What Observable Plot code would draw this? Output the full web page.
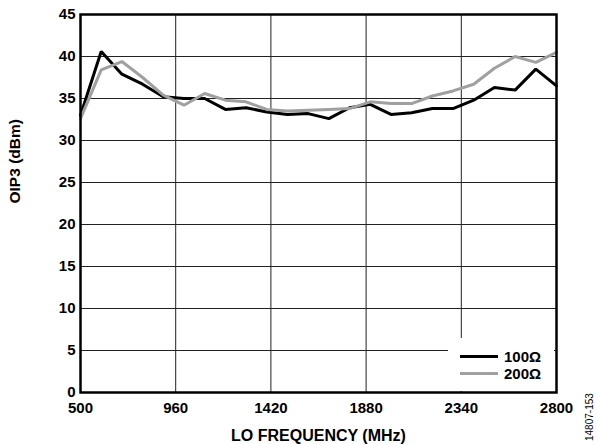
<!DOCTYPE html>
<html><head><meta charset="utf-8">
<script src="https://cdn.jsdelivr.net/npm/d3@7"></script>
<script src="https://cdn.jsdelivr.net/npm/@observablehq/plot@0.6"></script>
<style>
body{margin:0;background:#fff;font-family:"Liberation Sans",Arial,sans-serif;}
#wrap{position:relative;width:598px;height:444px;}
#legend{position:absolute;left:448px;top:338px;width:106px;height:53px;background:#fff;font-weight:bold;font-size:15px;}
.row{position:absolute;left:12px;height:17px;display:flex;align-items:center;}
.sw{width:38px;height:3px;margin-right:6px;}
#tag{position:absolute;left:584px;top:441px;transform:rotate(-90deg);transform-origin:0 0;font-size:10px;color:#000;white-space:nowrap;}
</style></head>
<body><div id="wrap"><div id="chart"></div>
<div id="legend"></div>
<div id="tag">14807-153</div></div>
<script>
const freqs = [500,600,700,800,900,1000,1100,1200,1300,1400,1500,1600,1700,1800,1900,2000,2100,2200,2300,2400,2500,2600,2700,2800];
const oip3_100 = [33.0,40.6,37.9,36.7,35.2,35.0,35.0,33.7,33.9,33.4,33.1,33.2,32.6,33.9,34.3,33.1,33.3,33.8,33.8,34.8,36.3,36.0,38.5,36.5];
const oip3_200 = [32.6,38.4,39.4,37.5,35.4,34.2,35.6,34.8,34.6,33.7,33.5,33.6,33.7,33.8,34.6,34.4,34.4,35.3,35.9,36.7,38.6,40.0,39.3,40.5];
const series = ["100Ω","200Ω"];
const colors = ["#000000","#a0a0a0"];
const xTicks = [500,960,1420,1880,2340,2800];
const yTicks = [0,5,10,15,20,25,30,35,40,45];
const xTitle = "LO FREQUENCY (MHz)";
const yTitle = "OIP3 (dBm)";

const data = [];
freqs.forEach((f,i)=>{
  data.push({f, v: oip3_100[i], s: series[0]});
  data.push({f, v: oip3_200[i], s: series[1]});
});

const chart = Plot.plot({
  width: 598, height: 444,
  marginLeft: 80, marginRight: 42, marginTop: 14, marginBottom: 52,
  style: {fontFamily: '"Liberation Sans", Arial, sans-serif', fontSize: "15px", fontWeight: "bold", color: "#000", background: "#fff"},
  x: {domain: [500,2800]},
  y: {domain: [0,45]},
  color: {domain: series, range: colors},
  marks: [
    Plot.gridX(xTicks, {stroke: "#222", strokeOpacity: 1, strokeWidth: 1}),
    Plot.gridY(yTicks, {stroke: "#222", strokeOpacity: 1, strokeWidth: 1}),
    Plot.axisX(xTicks, {tickSize: 0, tickPadding: 10, tickFormat: "d", label: null, fontSize: 15}),
    Plot.axisY(yTicks, {tickSize: 0, tickPadding: 5, tickFormat: "d", label: null, fontSize: 15}),
    Plot.text([xTitle], {frameAnchor: "bottom", text: d => d, dy: 43, fontSize: 16, fontWeight: "bold", lineAnchor: "middle"}),
    Plot.text([yTitle], {frameAnchor: "left", text: d => d, dx: -65, rotate: -90, fontSize: 15.5, fontWeight: "bold", lineAnchor: "middle"}),
    Plot.line(data, {x: "f", y: "v", z: "s", stroke: "s", strokeWidth: 3, strokeLinejoin: "miter"}),
    Plot.frame({stroke: "#000", strokeWidth: 2.5})
  ]
});
document.getElementById("chart").appendChild(chart);

const leg = document.getElementById("legend");
series.forEach((s,i)=>{
  const r = document.createElement("div");
  r.className = "row";
  r.style.top = (10 + i*17) + "px";
  r.innerHTML = `<div class="sw" style="background:${colors[i]}"></div><span>${s}</span>`;
  leg.appendChild(r);
});
</script></body></html>
